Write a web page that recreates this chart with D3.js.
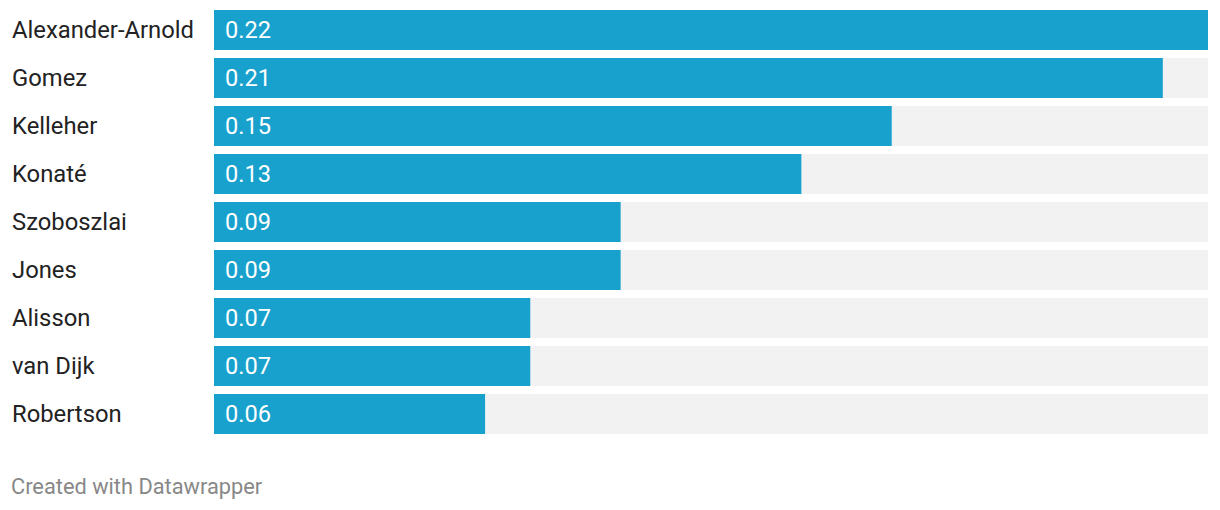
<!DOCTYPE html>
<html><head><meta charset="utf-8">
<script src="https://cdn.jsdelivr.net/npm/d3@7"></script>
<style>body{margin:0;background:#fff;font-family:Roboto,sans-serif;}</style>
</head><body>
<svg id="c" width="1220" height="510"></svg>
<script>
const players = ["Alexander-Arnold","Gomez","Kelleher","Konaté","Szoboszlai","Jones","Alisson","van Dijk","Robertson"];
const values = [0.22,0.21,0.15,0.13,0.09,0.09,0.07,0.07,0.06];
const footer = "Created with Datawrapper";

const svg = d3.select("#c");
const x = d3.scaleLinear().domain([0, 0.22]).range([214, 1208]);
const bh = 40;
const yp = d => 10 + players.indexOf(d)*48;

const g = svg.append("g");
g.selectAll("rect.bg").data(players).join("rect")
  .attr("x", x(0)).attr("y", d=>yp(d)).attr("width", x(0.22)-x(0)).attr("height", bh).attr("fill","#f2f2f2");
g.selectAll("rect.bar").data(players).join("rect")
  .attr("x", x(0)).attr("y", d=>yp(d)).attr("width", (d,i)=>x(values[i])-x(0)).attr("height", bh).attr("fill","#18a1cd");
g.selectAll("text.lab").data(players).join("text")
  .attr("x", 12).attr("y", d=>yp(d)+bh/2).attr("dy","0.35em")
  .attr("font-size", 23.8).attr("fill","#222").text(d=>d);
g.selectAll("text.val").data(players).join("text")
  .attr("x", x(0)+11).attr("y", d=>yp(d)+bh/2).attr("dy","0.35em")
  .attr("font-size", 23.6).attr("fill","#fff").text((d,i)=>values[i].toFixed(2));
svg.append("text").attr("x", 11).attr("y", 494).attr("font-size", 21.8).attr("fill","#888").text(footer);
</script>
</body></html>
